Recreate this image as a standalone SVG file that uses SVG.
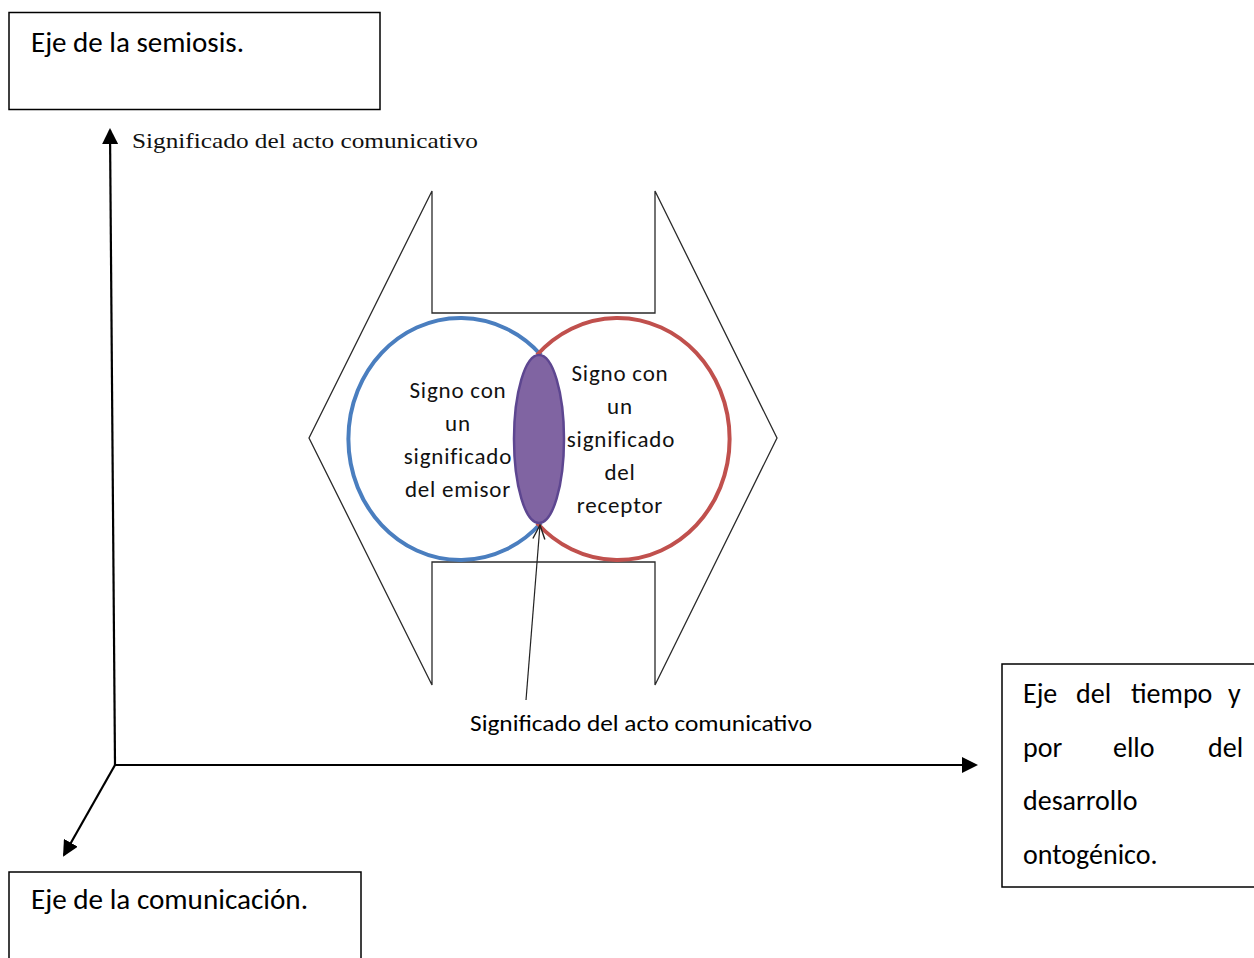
<svg xmlns="http://www.w3.org/2000/svg" width="1254" height="958" viewBox="0 0 1254 958">
  <style>
    .box { fill: #ffffff; stroke: #000000; stroke-width: 1.5; }
    .label { font-family: Carlito, Lato, "Liberation Sans", sans-serif; fill: #000000; }
    .big { font-size: 28px; }
    .inner { font-size: 23px; fill: #111111; text-anchor: middle; letter-spacing: 0.8px; }
    .serif { font-family: "Liberation Serif", serif; font-size: 21px; fill: #111111; }
    .axis { stroke: #000000; stroke-width: 2.2; fill: none; }
    .outline { fill: none; stroke: #2a2a2a; stroke-width: 1.3; stroke-linejoin: miter; }
    .pointer { stroke: #222222; stroke-width: 1.2; fill: none; }
    .sign { fill: none; stroke-width: 4; }
  </style>
  <defs>
    <marker id="solid-head" viewBox="0 0 16 16" markerWidth="16" markerHeight="16" refX="14" refY="8" orient="auto" markerUnits="userSpaceOnUse">
      <path d="M0,0 L16,8 L0,16 z" fill="#000000"/>
    </marker>
    <marker id="open-head" viewBox="0 0 16 16" markerWidth="16" markerHeight="16" refX="15" refY="8" orient="auto" markerUnits="userSpaceOnUse">
      <path d="M1,2 L15,8 L1,14" fill="none" stroke="#222222" stroke-width="1.4"/>
    </marker>
  </defs>

  <rect width="1254" height="958" fill="#ffffff"/>

  <!-- axis labels -->
  <g id="eje-semiosis">
    <rect class="box" x="9" y="12.5" width="371" height="97"/>
    <text class="label big" x="31" y="52" textLength="213" lengthAdjust="spacingAndGlyphs">Eje de la semiosis.</text>
  </g>

  <g id="eje-comunicacion">
    <rect class="box" x="9" y="872" width="352" height="100"/>
    <text class="label big" x="31" y="909" textLength="277" lengthAdjust="spacingAndGlyphs">Eje de la comunicación.</text>
  </g>

  <g id="eje-tiempo">
    <rect class="box" x="1002" y="664" width="270" height="223"/>
    <text class="label big" y="703">
      <tspan x="1023">Eje</tspan><tspan x="1076">del</tspan><tspan x="1131">tiempo</tspan><tspan x="1228">y</tspan>
    </text>
    <text class="label big" y="757">
      <tspan x="1023">por</tspan><tspan x="1113">ello</tspan><tspan x="1208">del</tspan>
    </text>
    <text class="label big" x="1023" y="810">desarrollo</text>
    <text class="label big" x="1023" y="864">ontogénico.</text>
  </g>

  <g id="significado-eje">
    <text class="serif" x="132" y="148" textLength="346" lengthAdjust="spacingAndGlyphs">Significado del acto comunicativo</text>
  </g>

  <!-- double-headed block arrow frame -->
  <g id="flecha-doble">
    <path class="outline" d="M432,191 L432,313 L655,313 L655,191 L777,438 L655,685 L655,562 L432,562 L432,685 L309,438 Z"/>
  </g>

  <!-- overlapping signs: each outline ends where the shared meaning begins -->
  <g id="signo-emisor">
    <path class="sign" stroke="#4a7ebf" d="M541,355 A112,121 0 1 0 541,523"/>
  </g>
  <g id="signo-receptor">
    <path class="sign" stroke="#c0504d" d="M537,355 A112,121 0 1 1 537,523"/>
  </g>
  <g id="significado-compartido">
    <ellipse cx="539" cy="439" rx="25" ry="84" fill="#8064a2" stroke="#5d4690" stroke-width="2.5"/>
  </g>

  <g id="texto-emisor">
    <text class="label inner" x="458" y="398">Signo con</text>
    <text class="label inner" x="458" y="431">un</text>
    <text class="label inner" x="458" y="464">significado</text>
    <text class="label inner" x="458" y="497">del emisor</text>
  </g>
  <g id="texto-receptor">
    <text class="label inner" x="620" y="381">Signo con</text>
    <text class="label inner" x="620" y="414">un</text>
    <text class="label inner" x="621" y="447">significado</text>
    <text class="label inner" x="620" y="480">del</text>
    <text class="label inner" x="620" y="513">receptor</text>
  </g>

  <g id="significado-acto">
    <text class="label" font-size="22" x="470" y="731" textLength="342" lengthAdjust="spacingAndGlyphs">Significado del acto comunicativo</text>
  </g>

  <!-- connectors -->
  <g id="connectors">
    <line class="axis" x1="115" y1="765" x2="110" y2="130" marker-end="url(#solid-head)"/>
    <line class="axis" x1="114" y1="765" x2="976" y2="765" marker-end="url(#solid-head)"/>
    <line class="axis" x1="115" y1="765" x2="64" y2="855" marker-end="url(#solid-head)"/>
    <line class="pointer" x1="526" y1="700" x2="540" y2="525" marker-end="url(#open-head)"/>
  </g>
</svg>
